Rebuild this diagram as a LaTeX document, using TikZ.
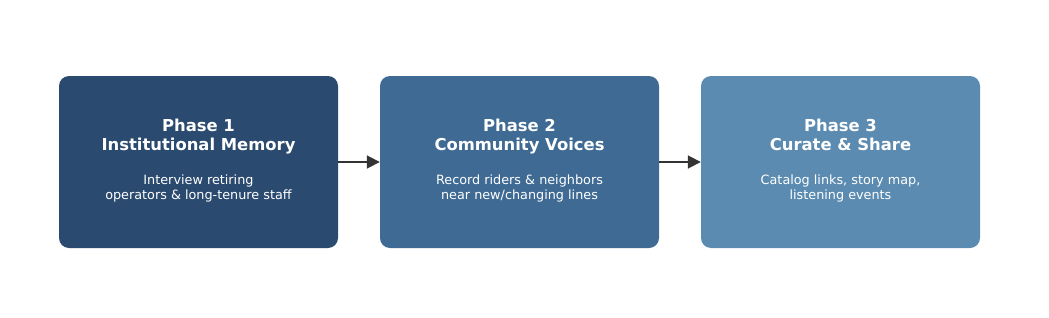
\documentclass[tikz,border=0pt]{standalone}
\usepackage{fontspec}
\setmainfont{DejaVu Sans}
\usetikzlibrary{arrows.meta}
\definecolor{phaseA}{HTML}{2A4A6F}
\definecolor{phaseB}{HTML}{3E6A93}
\definecolor{phaseC}{HTML}{5B8BB0}
\definecolor{arrowgray}{HTML}{333333}
\begin{document}
\begin{tikzpicture}[
      x=1pt, y=1pt,
      every node/.style={text=white, align=center},
      phase/.style={rounded corners=10pt, minimum width=279pt, minimum height=172pt,
                    inner sep=0pt, anchor=center},
      title/.style={font=\fontsize{16.4}{18.5}\selectfont\bfseries, inner sep=0pt, anchor=north},
      body/.style={font=\fontsize{12.8}{14.8}\selectfont, inner sep=0pt, anchor=north},
      link/.style={-{Triangle[length=13pt,width=13pt]}, line width=1.8pt, arrowgray},
    ]
    \useasboundingbox (0,0) rectangle (1049,317);
    % --- three phases ---
    \foreach \i/\col/\x/\name/\desc in {
        1/phaseA/198.5/Institutional Memory/{Interview retiring\\operators \& long-tenure staff},
        2/phaseB/519.5/Community Voices/{Record riders \& neighbors\\near new/changing lines},
        3/phaseC/840.5/Curate \& Share/{Catalog links, story map,\\listening events}} {
      \node[phase, fill=\col] (p\i) at (\x, 155) {};
      \node[title] (t\i) at (\x, 198) {Phase \i\\\name};
      \node[body] (d\i) at (\x, 142) {\desc};
    }
    % --- arrows between phases ---
    \draw[link] (p1.east) -- (p2.west);
    \draw[link] (p2.east) -- (p3.west);
  \end{tikzpicture}
\end{document}
